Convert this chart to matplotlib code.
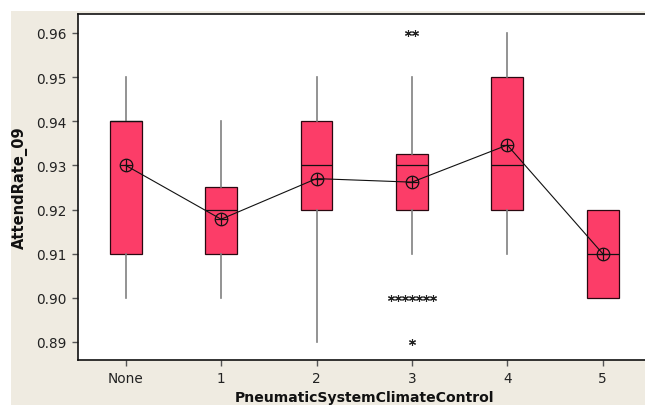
import matplotlib
matplotlib.use("Agg")
import matplotlib.pyplot as plt
from matplotlib.patches import Rectangle
import numpy as np

categories = ["None", "1", "2", "3", "4", "5"]
q1 = [0.91, 0.91, 0.92, 0.92, 0.92, 0.90]
med = [0.94, 0.92, 0.93, 0.93, 0.93, 0.91]
q3 = [0.94, 0.925, 0.94, 0.9325, 0.95, 0.92]
whislo = [0.90, 0.90, 0.89, 0.91, 0.91, 0.90]
whishi = [0.95, 0.94, 0.95, 0.95, 0.96, 0.92]
means = [0.930, 0.9178, 0.927, 0.9262, 0.9346, 0.910]
outliers = [[], [], [], [0.96, 0.96, 0.90, 0.90, 0.90, 0.90, 0.90, 0.90, 0.90, 0.89], [], []]
yticks = [0.89, 0.90, 0.91, 0.92, 0.93, 0.94, 0.95, 0.96]

W, H = 645, 406
fig = plt.figure(figsize=(W / 100, H / 100), dpi=100)
fig.patch.set_facecolor("white")
fig.patches.append(Rectangle((11 / W, 0), 1, (H - 12) / H, transform=fig.transFigure,
                             facecolor="#EFEBE1", edgecolor="none", zorder=-10))

left, right, top, bottom = 78, 650.4, 15, 361
ax = fig.add_axes([left / W, 1 - bottom / H, (right - left) / W, (bottom - top) / H])
ax.set_facecolor("white")

stats = []
for i in range(len(categories)):
    stats.append(dict(q1=q1[i], med=med[i], q3=q3[i], whislo=whislo[i], whishi=whishi[i],
                      fliers=[], mean=means[i], label=categories[i]))
pos = np.arange(len(categories))
ax.bxp(stats, positions=pos, widths=0.335, patch_artist=True, showcaps=False,
       showfliers=False,
       boxprops=dict(facecolor="#FC3D68", edgecolor="#2A0810", linewidth=0.9),
       medianprops=dict(color="#111111", linewidth=0.9),
       whiskerprops=dict(color="#808080", linewidth=1.2),
       manage_ticks=False)

# mean connect line and markers
ax.plot(pos, means, color="#111111", linewidth=0.8, zorder=4)
ax.plot(pos, means, linestyle="none", marker="o", markersize=9, markerfacecolor="none",
        markeredgecolor="#111111", markeredgewidth=0.9, zorder=5)
ax.plot(pos, means, linestyle="none", marker="+", markersize=9,
        markeredgecolor="#111111", markeredgewidth=0.9, zorder=5)

# outliers (tied values placed side by side)
for i, outs in enumerate(outliers):
    if not outs:
        continue
    vals, counts = np.unique(outs, return_counts=True)
    for v, c in zip(vals, counts):
        offs = (np.arange(c) - (c - 1) / 2) * 0.073
        ax.plot(pos[i] + offs, [v] * c, linestyle="none", marker=(6, 2, 0), markersize=5,
                markeredgecolor="#222222", markeredgewidth=0.8, zorder=5)

ax.set_xlim(-0.5, 5.5)
ax.set_ylim(0.8859, 0.9643)
ax.set_xticks(pos)
ax.set_xticklabels(categories)
ax.set_yticks(yticks)
ax.set_yticklabels([f"{v:.2f}" for v in yticks])
ax.tick_params(axis="both", direction="out", length=4, width=1, color="#555555",
               labelsize=9.8, labelcolor="#222222", pad=4)
for s in ax.spines.values():
    s.set_color("#111111")
    s.set_linewidth(1.2)

fig.text(364 / W, 1 - 398 / H, "PneumaticSystemClimateControl", ha="center", va="center",
         fontsize=10.1, fontweight="bold", color="#111111")
fig.text(20 / W, 1 - 188 / H, "AttendRate_09", ha="center", va="center", rotation=90,
         fontsize=10.5, fontweight="bold", color="#111111")

fig.savefig("out.png", dpi=100)
